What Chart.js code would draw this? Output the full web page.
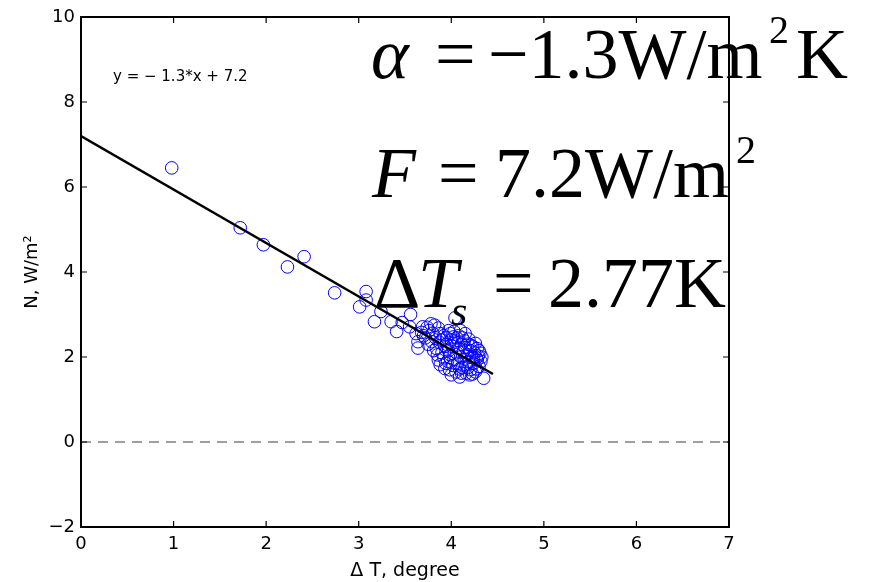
<!DOCTYPE html>
<html>
<head>
<meta charset="utf-8">
<script src="https://cdn.jsdelivr.net/npm/chart.js@4.4.1/dist/chart.umd.min.js"></script>
<style>
  body { margin: 0; background: #fff; }
  #wrap { width: 869px; height: 582px; position: relative; }
</style>
</head>
<body>
<div id="wrap"><canvas id="gregory"></canvas></div>
<script>
// surface warming (K) vs net TOA flux (W/m2)
const deltaT = [
  0.98, 1.72, 1.97, 2.23, 2.41, 2.74, 3.08, 3.08, 3.01, 3.17,
  3.24, 3.35, 3.41, 3.47, 3.56, 3.55, 3.64, 3.64, 3.69, 3.62,
  3.72, 3.76, 3.78, 3.80, 3.79, 3.82, 3.86, 3.90, 3.93, 4.00,
  4.09, 4.20, 4.35, 4.28, 4.31, 4.02, 4.04, 3.75, 3.84, 3.88,
  3.92, 3.95, 3.97, 3.99, 4.01, 4.03, 4.04, 4.06, 4.07, 4.08,
  4.10, 4.11, 4.12, 4.13, 4.14, 4.15, 4.16, 4.17, 4.18, 4.19,
  4.20, 4.21, 4.22, 4.23, 4.24, 4.25, 4.26, 4.27, 4.28, 4.30,
  4.29, 3.96, 3.98, 4.00, 4.02, 4.05, 4.06, 4.09, 4.11, 4.14,
  4.16, 4.18, 4.19, 4.21, 4.23, 4.24, 4.26, 4.27, 4.30, 4.32,
  4.33, 3.90, 3.92, 3.94, 3.93, 3.87, 3.85, 3.88, 3.83, 3.81,
  3.95, 3.99, 4.03, 4.08, 4.12, 4.15, 4.10, 3.97, 3.86, 3.74,
  3.70, 3.68
];
const netFlux = [
  6.45, 5.04, 4.64, 4.12, 4.36, 3.51, 3.54, 3.34, 3.18, 2.83,
  3.07, 2.83, 2.60, 2.81, 3.00, 2.71, 2.36, 2.21, 2.71, 2.55,
  2.45, 2.62, 2.78, 2.56, 2.36, 2.75, 1.93, 2.40, 1.73, 1.58,
  1.53, 1.58, 1.50, 1.93, 2.09, 2.47, 2.92, 2.30, 2.20, 2.55,
  2.50, 2.30, 2.15, 2.05, 2.25, 1.95, 2.35, 2.10, 1.85, 2.20,
  2.00, 2.30, 1.75, 2.12, 1.95, 2.22, 1.82, 2.05, 2.30, 1.90,
  2.15, 1.70, 2.00, 2.25, 1.85, 2.10, 1.65, 1.98, 2.20, 1.78,
  2.02, 1.90, 1.70, 2.40, 1.80, 1.65, 2.45, 1.72, 1.62, 2.38,
  1.62, 1.75, 2.42, 2.28, 1.60, 1.98, 2.32, 1.72, 2.15, 1.90,
  2.00, 2.10, 1.98, 1.85, 2.25, 2.35, 2.05, 1.82, 2.45, 2.15,
  2.45, 2.55, 2.60, 2.50, 2.45, 2.55, 2.62, 2.62, 2.68, 2.70,
  2.50, 2.58
];

// least squares line endpoints and the zero line
const fitX = [0, 4.45];
const fitY = [7.2, 1.6];
const zeroX = [0, 7];
const zeroY = [0, 0];

const xTickValues = [0, 1, 2, 3, 4, 5, 6, 7];
const yTickValues = [-2, 0, 2, 4, 6, 8, 10];

const fitLabel = "y = \u2212 1.3*x + 7.2";

const toPoints = (xs, ys) => xs.map((x, i) => ({ x: x, y: ys[i] }));
const minus = (v) => (v < 0 ? "\u2212" + Math.abs(v) : String(v));

// MATLAB style box with inward ticks on all four sides
const boxPlugin = {
  id: "box",
  afterDatasetsDraw(chart) {
    const { ctx, chartArea: a, scales } = chart;
    ctx.save();
    ctx.strokeStyle = "#000";
    ctx.lineWidth = 2;
    ctx.strokeRect(a.left, a.top, a.right - a.left, a.bottom - a.top);
    ctx.lineWidth = 1.2;
    ctx.beginPath();
    xTickValues.forEach((v) => {
      const px = scales.x.getPixelForValue(v);
      ctx.moveTo(px, a.bottom); ctx.lineTo(px, a.bottom - 6);
      ctx.moveTo(px, a.top); ctx.lineTo(px, a.top + 6);
    });
    yTickValues.forEach((v) => {
      const py = scales.y.getPixelForValue(v);
      ctx.moveTo(a.left, py); ctx.lineTo(a.left + 6, py);
      ctx.moveTo(a.right, py); ctx.lineTo(a.right - 6, py);
    });
    ctx.stroke();
    ctx.restore();
  },
  afterDraw(chart) {
    const ctx = chart.ctx;
    ctx.save();
    ctx.fillStyle = "#000";
    ctx.textBaseline = "alphabetic";
    ctx.font = "15px 'DejaVu Sans'";
    ctx.fillText(fitLabel, 113, 81);

    const big = "72px 'Liberation Serif'";
    const bigIt = "italic 72px 'Liberation Serif'";
    const small = "40px 'Liberation Serif'";
    const smallIt = "italic 42px 'Liberation Serif'";
    const runs = [
      [bigIt, "\u03b1", 371, 78], [big, "=", 435, 78], [big, "\u22121.3W/m", 488, 78],
      [small, "2", 769, 43], [big, "K", 796, 78],
      [bigIt, "F", 372, 197], [big, "=", 438, 197], [big, "7.2W/m", 495, 197],
      [small, "2", 736, 163],
      [big, "\u0394", 374, 307], [bigIt, "T", 418, 307], [smallIt, "s", 451, 325],
      [big, "=", 493, 307], [big, "2.77K", 548, 307]
    ];
    runs.forEach(([f, t, x, y]) => { ctx.font = f; ctx.fillText(t, x, y); });
    ctx.restore();
  }
};

new Chart(document.getElementById("gregory"), {
  type: "scatter",
  data: {
    datasets: [
      {
        data: toPoints(fitX, fitY),
        showLine: true,
        borderColor: "#000",
        borderWidth: 2.5,
        pointRadius: 0,
      },
      {
        data: toPoints(zeroX, zeroY),
        showLine: true,
        borderColor: "#7f7f7f",
        borderWidth: 1.3,
        borderDash: [10, 7],
        pointRadius: 0,
      },
      {
        data: toPoints(deltaT, netFlux),
        pointStyle: "circle",
        pointRadius: 6.3,
        borderColor: "#0000ff",
        borderWidth: 1,
        backgroundColor: "rgba(0,0,0,0)",
      },
    ],
  },
  options: {
    responsive: true,
    maintainAspectRatio: false,
    animation: false,
    layout: { padding: { left: 0, right: 140, top: 17, bottom: 0 } },
    plugins: { legend: { display: false }, tooltip: { enabled: false } },
    scales: {
      x: {
        min: 0,
        max: 7,
        afterBuildTicks: (s) => { s.ticks = xTickValues.map((v) => ({ value: v })); },
        afterFit: (s) => { s.height = 55; },
        grid: { display: false, drawTicks: false },
        border: { display: false },
        ticks: { color: "#000", padding: 7, callback: minus, font: { family: "DejaVu Sans", size: 18 } },
        title: {
          display: true,
          text: "\u0394 T, degree",
          color: "#000",
          padding: { top: 0, bottom: 0 },
          font: { family: "DejaVu Sans", size: 19 },
        },
      },
      y: {
        min: -2,
        max: 10,
        afterBuildTicks: (s) => { s.ticks = yTickValues.map((v) => ({ value: v })); },
        afterFit: (s) => { s.width = 81; },
        grid: { display: false, drawTicks: false },
        border: { display: false },
        ticks: { color: "#000", padding: 6, callback: minus, font: { family: "DejaVu Sans", size: 18 } },
        title: {
          display: true,
          text: "N, W/m\u00b2",
          color: "#000",
          padding: { top: 22, bottom: 0 },
          font: { family: "DejaVu Sans", size: 18 },
        },
      },
    },
  },
  plugins: [boxPlugin],
});
</script>
</body>
</html>
